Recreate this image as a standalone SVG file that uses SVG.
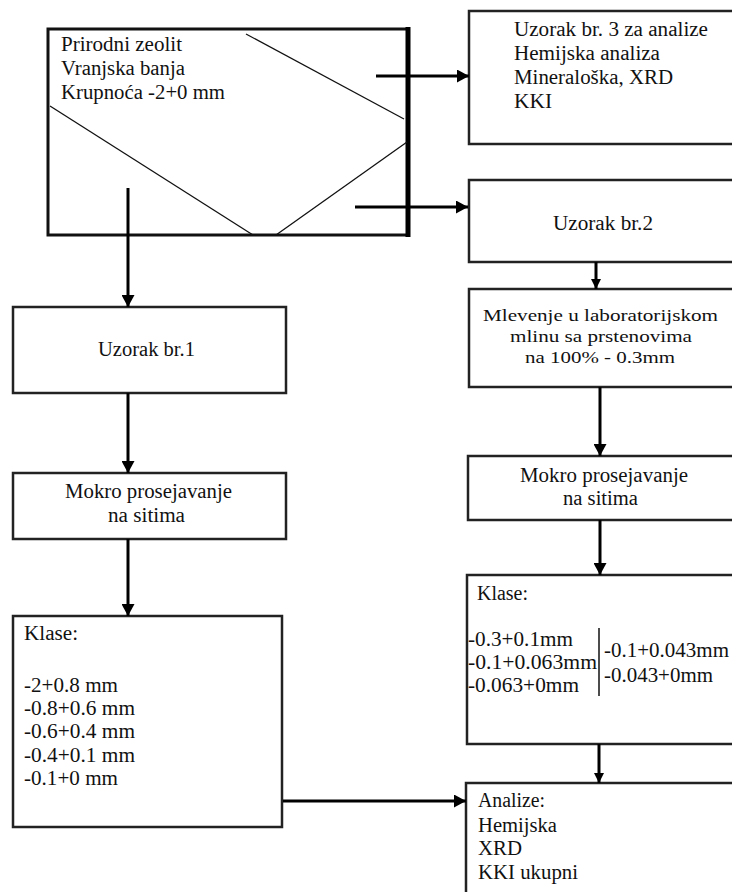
<svg xmlns="http://www.w3.org/2000/svg" width="732" height="892" viewBox="0 0 732 892">
<defs>
<style>
.box{fill:#fff;stroke:#222;stroke-width:2.5}
.t{font-family:"Liberation Serif","Times New Roman",serif;font-size:20px;fill:#111}
.s{font-size:17px}
.c{stroke:#000;stroke-width:3;fill:none}
.thin{stroke:#111;stroke-width:1.3;fill:none}
</style>
<marker id="ah" markerUnits="userSpaceOnUse" markerWidth="13" markerHeight="13" refX="12" refY="6.5" orient="auto">
<path d="M0,0 L12,6.5 L0,13 z" fill="#000"/>
</marker>
<marker id="ahs" markerUnits="userSpaceOnUse" markerWidth="11" markerHeight="11" refX="10" refY="5" orient="auto">
<path d="M0,0 L10,5 L0,10 z" fill="#000"/>
</marker>
</defs>
<rect width="732" height="892" fill="#fff"/>

<g id="n-source">
<rect x="48" y="29" width="360" height="206" fill="#fff" stroke="#111" stroke-width="3"/>
<line x1="408" y1="27" x2="408" y2="237" stroke="#000" stroke-width="5"/>
<line class="thin" x1="246" y1="34" x2="404" y2="119"/>
<line class="thin" x1="50" y1="106" x2="253" y2="235"/>
<line class="thin" x1="276" y1="235" x2="407" y2="142"/>
<text class="t" x="61" y="51" textLength="121" lengthAdjust="spacingAndGlyphs">Prirodni zeolit</text>
<text class="t" x="61" y="75" textLength="124" lengthAdjust="spacingAndGlyphs">Vranjska banja</text>
<text class="t" x="61" y="99" textLength="164" lengthAdjust="spacingAndGlyphs">Krupnoća -2+0 mm</text>
</g>

<g id="n-uzorak3">
<rect class="box" x="469" y="11" width="280" height="133"/>
<text class="t" x="514" y="36" textLength="194" lengthAdjust="spacingAndGlyphs">Uzorak br. 3 za analize</text>
<text class="t" x="514" y="60" textLength="146" lengthAdjust="spacingAndGlyphs">Hemijska analiza</text>
<text class="t" x="514" y="84" textLength="159" lengthAdjust="spacingAndGlyphs">Mineraloška, XRD</text>
<text class="t" x="514" y="108" textLength="38" lengthAdjust="spacingAndGlyphs">KKI</text>
</g>

<g id="n-uzorak2">
<rect class="box" x="469" y="180" width="280" height="82"/>
<text class="t" x="553" y="230" textLength="100" lengthAdjust="spacingAndGlyphs">Uzorak br.2</text>
</g>

<g id="n-mlevenje">
<rect class="box" x="469" y="289" width="280" height="98"/>
<text class="t s" x="483" y="321" textLength="235" lengthAdjust="spacingAndGlyphs">Mlevenje u laboratorijskom</text>
<text class="t s" x="510" y="342" textLength="182" lengthAdjust="spacingAndGlyphs">mlinu sa prstenovima</text>
<text class="t s" x="525" y="363" textLength="150" lengthAdjust="spacingAndGlyphs">na 100% - 0.3mm</text>
</g>

<g id="n-mokro2">
<rect class="box" x="468" y="456" width="280" height="64"/>
<text class="t" x="520" y="482" textLength="168" lengthAdjust="spacingAndGlyphs">Mokro prosejavanje</text>
<text class="t" x="563" y="505" textLength="75" lengthAdjust="spacingAndGlyphs">na sitima</text>
</g>

<g id="n-klase2">
<rect class="box" x="467" y="575" width="280" height="169"/>
<text class="t" x="477" y="600" textLength="51" lengthAdjust="spacingAndGlyphs">Klase:</text>
<text class="t" x="468" y="646" textLength="105" lengthAdjust="spacingAndGlyphs">-0.3+0.1mm</text>
<text class="t" x="468" y="669" textLength="129" lengthAdjust="spacingAndGlyphs">-0.1+0.063mm</text>
<text class="t" x="468" y="692" textLength="111" lengthAdjust="spacingAndGlyphs">-0.063+0mm</text>
<line x1="599" y1="628" x2="599" y2="696" stroke="#111" stroke-width="1.5"/>
<text class="t" x="604" y="657" textLength="125" lengthAdjust="spacingAndGlyphs">-0.1+0.043mm</text>
<text class="t" x="604" y="682" textLength="109" lengthAdjust="spacingAndGlyphs">-0.043+0mm</text>
</g>

<g id="n-analize">
<rect class="box" x="466" y="783" width="280" height="120"/>
<text class="t" x="478" y="807" textLength="67" lengthAdjust="spacingAndGlyphs">Analize:</text>
<text class="t" x="478" y="832" textLength="79" lengthAdjust="spacingAndGlyphs">Hemijska</text>
<text class="t" x="478" y="855" textLength="44" lengthAdjust="spacingAndGlyphs">XRD</text>
<text class="t" x="478" y="879" textLength="100" lengthAdjust="spacingAndGlyphs">KKI ukupni</text>
</g>

<g id="n-uzorak1">
<rect class="box" x="13" y="307" width="273" height="86"/>
<text class="t" x="98" y="356" textLength="97" lengthAdjust="spacingAndGlyphs">Uzorak br.1</text>
</g>

<g id="n-mokro1">
<rect class="box" x="13" y="473" width="273" height="66"/>
<text class="t" x="65" y="498" textLength="167" lengthAdjust="spacingAndGlyphs">Mokro prosejavanje</text>
<text class="t" x="108" y="522" textLength="77" lengthAdjust="spacingAndGlyphs">na sitima</text>
</g>

<g id="n-klase1">
<rect class="box" x="13" y="616" width="269" height="211"/>
<text class="t" x="24" y="640" textLength="54" lengthAdjust="spacingAndGlyphs">Klase:</text>
<text class="t" x="24" y="692" textLength="94" lengthAdjust="spacingAndGlyphs">-2+0.8 mm</text>
<text class="t" x="24" y="715" textLength="111" lengthAdjust="spacingAndGlyphs">-0.8+0.6 mm</text>
<text class="t" x="24" y="738" textLength="111" lengthAdjust="spacingAndGlyphs">-0.6+0.4 mm</text>
<text class="t" x="24" y="762" textLength="111" lengthAdjust="spacingAndGlyphs">-0.4+0.1 mm</text>
<text class="t" x="24" y="785" textLength="94" lengthAdjust="spacingAndGlyphs">-0.1+0 mm</text>
</g>

<g id="connectors">
<line class="c" x1="376" y1="76" x2="469" y2="76" marker-end="url(#ah)"/>
<line class="c" x1="355" y1="207" x2="468" y2="207" marker-end="url(#ah)"/>
<line class="c" x1="128" y1="188" x2="128" y2="307" marker-end="url(#ah)"/>
<line class="c" x1="128" y1="393" x2="128" y2="473" marker-end="url(#ah)"/>
<line class="c" x1="128" y1="539" x2="128" y2="616" marker-end="url(#ah)"/>
<line class="c" x1="596" y1="262" x2="596" y2="289" marker-end="url(#ahs)"/>
<line class="c" x1="600" y1="387" x2="600" y2="456" marker-end="url(#ah)"/>
<line class="c" x1="600" y1="520" x2="600" y2="575" marker-end="url(#ah)"/>
<line class="c" x1="599" y1="744" x2="599" y2="783" marker-end="url(#ahs)"/>
<line class="c" x1="283" y1="801" x2="466" y2="801" marker-end="url(#ah)"/>
</g>
</svg>
